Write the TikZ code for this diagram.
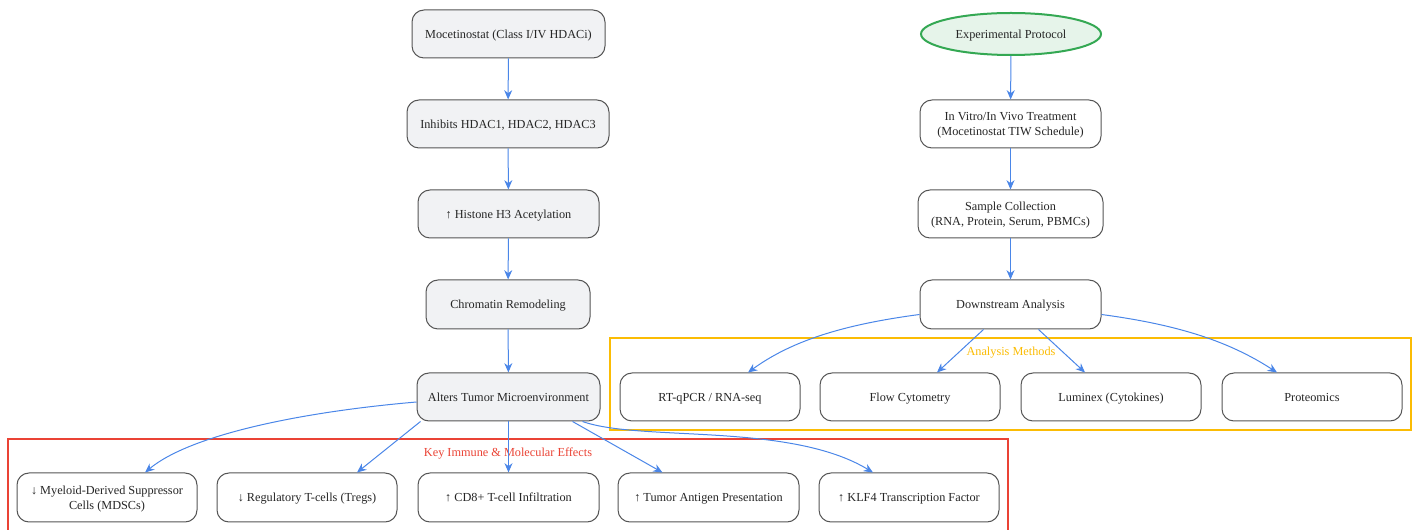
\documentclass[tikz,border=0pt]{standalone}
\usepackage{fontspec}
\setmainfont{Liberation Serif}
\usetikzlibrary{arrows.meta,shapes.geometric,calc}
\definecolor{nodegray}{HTML}{F1F2F4}
\definecolor{edgeblue}{HTML}{4A86E8}
\definecolor{clred}{HTML}{EA4335}
\definecolor{clyellow}{HTML}{FBBC04}
\definecolor{protogreen}{HTML}{34A853}
\definecolor{protofill}{HTML}{E6F4EA}
\definecolor{bordergray}{HTML}{555555}
\begin{document}
\begin{tikzpicture}[x=0.75pt,y=-0.75pt,
  txt/.style={font=\fontsize{9.2pt}{11.2pt}\selectfont},
  box/.style={draw=bordergray,line width=0.75pt,rounded corners=9pt,align=center,txt,inner sep=0pt,text depth=0pt,text=black!85},
  graybox/.style={box,fill=nodegray},
  whitebox/.style={box,fill=white},
  arr/.style={draw=edgeblue,line width=0.75pt,-{Stealth[length=7pt,width=6pt]}},
  cluster/.style={line width=0.8pt,fill=none}]
\useasboundingbox (0,0) rectangle (1417,530);
% clusters
\draw[cluster,draw=clred] (8,439) rectangle (1008,540);
\node[text=clred,txt,text depth=0pt] (lblred) at (508,452) {Key Immune \& Molecular Effects};
\draw[cluster,draw=clyellow] (610,338) rectangle (1411,430);
\node[text=clyellow,txt,text depth=0pt] (lblyel) at (1011,351) {Analysis Methods};
% left column
\node[graybox,minimum width=193*0.75pt,minimum height=48*0.75pt] (A) at (508.5,34) {Mocetinostat (Class I/IV HDACi)};
\node[graybox,minimum width=202*0.75pt,minimum height=48*0.75pt] (B) at (508,124) {Inhibits HDAC1, HDAC2, HDAC3};
\node[graybox,minimum width=181*0.75pt,minimum height=48*0.75pt] (C) at (508.5,214) {↑ Histone H3 Acetylation};
\node[graybox,minimum width=164*0.75pt,minimum height=49*0.75pt] (D) at (508,304.5) {Chromatin Remodeling};
\node[graybox,minimum width=183*0.75pt,minimum height=48*0.75pt] (E) at (508.5,397) {Alters Tumor Microenvironment};
% effects
\node[whitebox,minimum width=180*0.75pt,minimum height=49*0.75pt] (F1) at (107,497.5) {↓ Myeloid-Derived Suppressor\\Cells (MDSCs)};
\node[whitebox,minimum width=180*0.75pt,minimum height=49*0.75pt] (F2) at (307,497.5) {↓ Regulatory T-cells (Tregs)};
\node[whitebox,minimum width=181*0.75pt,minimum height=49*0.75pt] (F3) at (508.5,497.5) {↑ CD8+ T-cell Infiltration};
\node[whitebox,minimum width=181*0.75pt,minimum height=49*0.75pt] (F4) at (708.5,497.5) {↑ Tumor Antigen Presentation};
\node[whitebox,minimum width=180*0.75pt,minimum height=49*0.75pt] (F5) at (909,497.5) {↑ KLF4 Transcription Factor};
% right column
\node[ellipse,draw=protogreen,fill=protofill,line width=1.5pt,minimum width=180*0.75pt,minimum height=42*0.75pt,inner sep=0pt,txt,text depth=0pt,text=black!85] (P) at (1011,34) {Experimental Protocol};
\node[whitebox,minimum width=181*0.75pt,minimum height=48*0.75pt] (T) at (1010.5,124) {In Vitro/In Vivo Treatment\\(Mocetinostat TIW Schedule)};
\node[whitebox,minimum width=185*0.75pt,minimum height=48*0.75pt] (S) at (1010.5,214) {Sample Collection\\(RNA, Protein, Serum, PBMCs)};
\node[whitebox,minimum width=181*0.75pt,minimum height=49*0.75pt] (DA) at (1010.5,304.5) {Downstream Analysis};
% methods
\node[whitebox,minimum width=180*0.75pt,minimum height=48*0.75pt] (M1) at (710,397) {RT-qPCR / RNA-seq};
\node[whitebox,minimum width=180*0.75pt,minimum height=48*0.75pt] (M2) at (910,397) {Flow Cytometry};
\node[whitebox,minimum width=180*0.75pt,minimum height=48*0.75pt] (M3) at (1111,397) {Luminex (Cytokines)};
\node[whitebox,minimum width=180*0.75pt,minimum height=48*0.75pt] (M4) at (1312,397) {Proteomics};
% edges left
\draw[arr] (A) -- (B);
\draw[arr] (B) -- (C);
\draw[arr] (C) -- (D);
\draw[arr] (D) -- (E);
\draw[arr] ($(E.west)+(0,5)$) .. controls (300,412) and (190,435) .. ($(F1.north)+(38,0)$);
\draw[arr] ($(E.south west)+(4,0)$) -- ($(F2.north)+(50,0)$);
\draw[arr] (E) -- (F3);
\draw[arr] ($(E.south east)+(-28,0)$) -- ($(F4.north)+(-46,0)$);
\draw[arr] ($(E.south east)+(-18,0)$) .. controls (640,442) and (790,422) .. ($(F5.north)+(-36,0)$);
% edges right
\draw[arr] (P) -- (T);
\draw[arr] (T) -- (S);
\draw[arr] (S) -- (DA);
\draw[arr] ($(DA.west)+(0,10)$) .. controls (840,325) and (790,342) .. ($(M1.north)+(38,0)$);
\draw[arr] ($(DA.south west)+(64,0)$) -- ($(M2.north)+(27,0)$);
\draw[arr] ($(DA.south east)+(-63,0)$) -- ($(M3.north)+(-26,0)$);
\draw[arr] ($(DA.east)+(0,10)$) .. controls (1180,325) and (1230,342) .. ($(M4.north)+(-35,0)$);
\end{tikzpicture}
\end{document}
